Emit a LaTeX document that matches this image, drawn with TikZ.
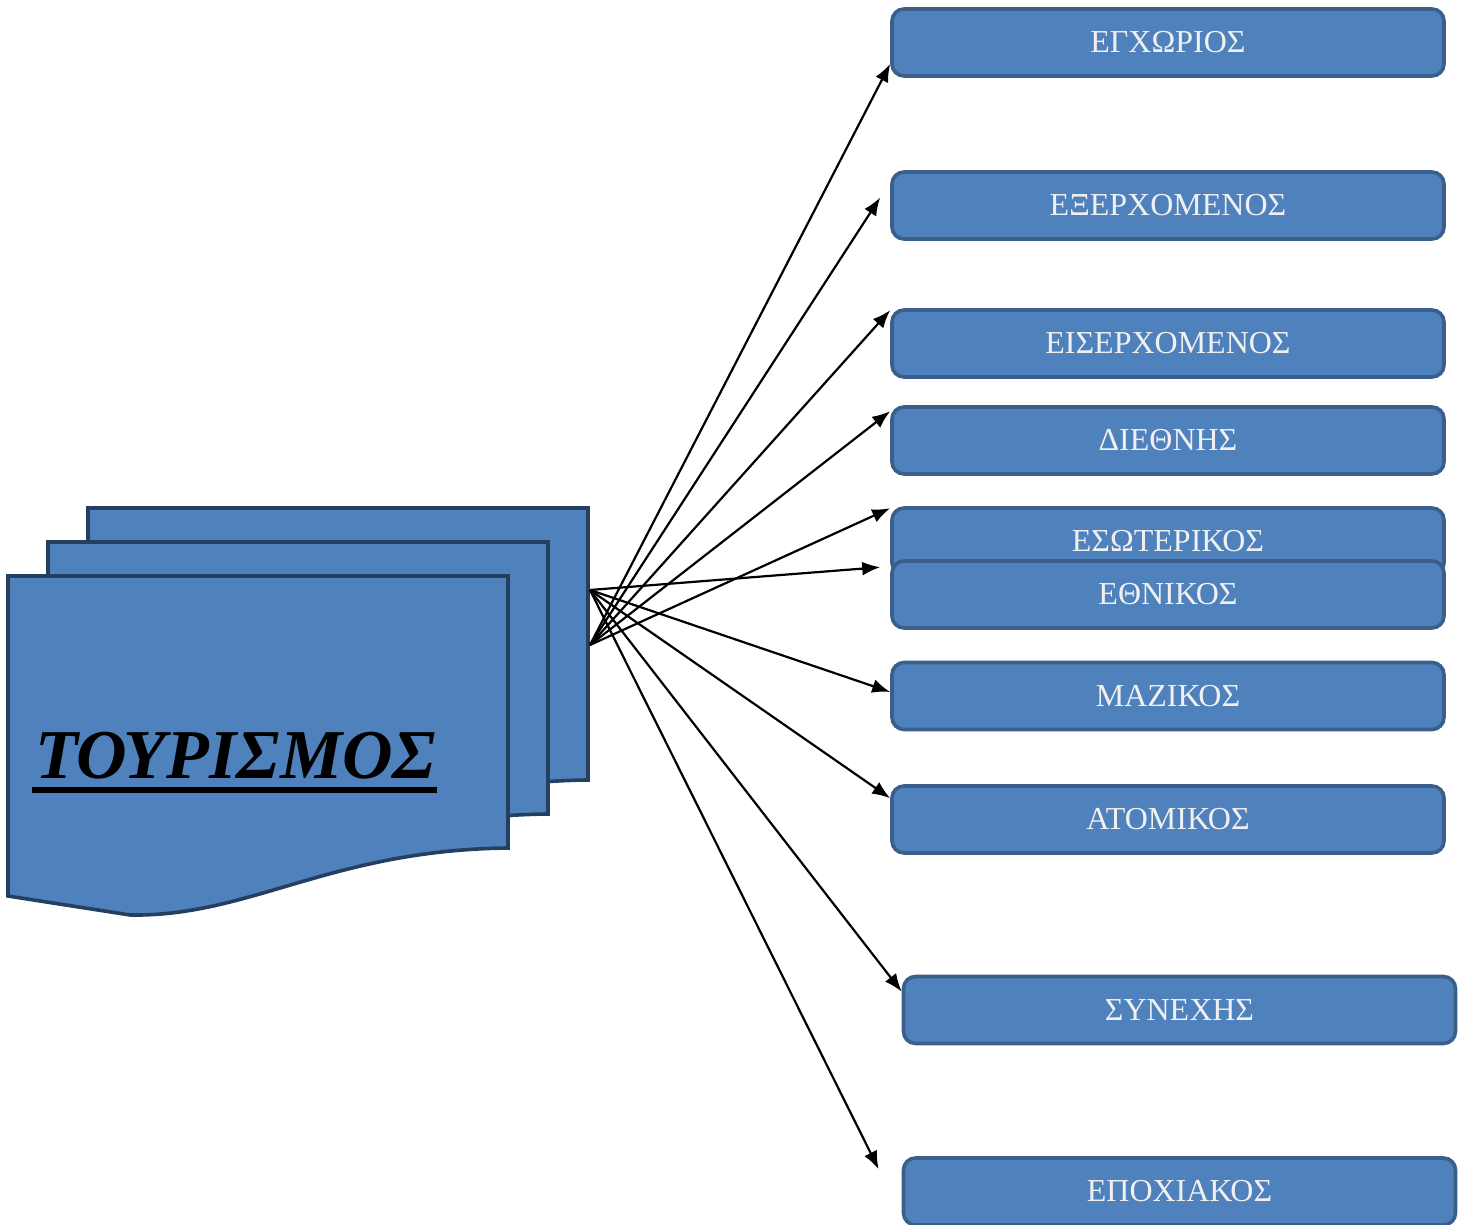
\documentclass[tikz,border=0pt]{standalone}
\usepackage{fontspec}
\setmainfont{Liberation Serif}
\usetikzlibrary{arrows.meta}

\definecolor{boxfill}{HTML}{4F81BD}
\definecolor{boxline}{HTML}{3A5F8B}
\definecolor{sheetline}{HTML}{243F60}

\tikzset{
  type box/.style={draw=boxline, fill=boxfill, line width=1.8pt, rounded corners=6pt,
    minimum width=276pt, minimum height=33.5pt, text=white!94!black, inner sep=0pt,
    font=\fontsize{16pt}{18pt}\selectfont},
  sheet/.style={draw=sheetline, fill=boxfill, line width=1.8pt}
}

\begin{document}
\begin{tikzpicture}[x=0.5pt, y=-0.5pt, >={Latex[length=9pt,width=7pt]}]

  \useasboundingbox (0,0) rectangle (1464,1225);

  \foreach \s in {80,40,0}
  \draw [sheet, shift={(\s,-0.85*\s)}] (8,576) -- (508,576) -- (508,848)
    .. controls (330,850) and (250,917) .. (130,915) -- (8,896) -- cycle;

  \node [anchor=base west, inner sep=0pt, font=\fontsize{35pt}{40pt}\selectfont\bfseries\itshape]
    (title) at (35,778) {ΤΟΥΡΙΣΜΟΣ};
  \draw [line width=3pt] ([xshift=-1.5pt,yshift=-6pt]title.base west) -- ([yshift=-6pt]title.base east);

  \foreach \n/\l/\x/\y in {local/ΕΓΧΩΡΙΟΣ/1168/42.5, outbound/ΕΞΕΡΧΟΜΕΝΟΣ/1168/205.5,
      inbound/ΕΙΣΕΡΧΟΜΕΝΟΣ/1168/343.5, intl/ΔΙΕΘΝΗΣ/1168/440.5,
      domestic/ΕΣΩΤΕΡΙΚΟΣ/1168/541.5, national/ΕΘΝΙΚΟΣ/1168/594.5,
      mass/ΜΑΖΙΚΟΣ/1168/696, indiv/ΑΤΟΜΙΚΟΣ/1168/819.5,
      contin/ΣΥΝΕΧΗΣ/1179.5/1010, season/ΕΠΟΧΙΑΚΟΣ/1179.5/1191.5}
  \node [type box] (\n) at (\x,\y) {\l};

  \coordinate (src-a) at (590,590);
  \coordinate (src-b) at (590,645);

  \draw [->, line width=1.1pt] (src-b) -- ([yshift=7pt]local.south west);
  \draw [->, line width=1.1pt] (src-b) -- ([xshift=-5pt,yshift=4pt]outbound.west);
  \draw [->, line width=1.1pt] (src-b) -- ([yshift=-1pt]inbound.north west);
  \draw [->, line width=1.1pt] (src-b) -- ([yshift=-3pt]intl.north west);
  \draw [->, line width=1.1pt] (src-b) -- ([yshift=-1pt]domestic.north west);
  \draw [->, line width=1.1pt] (src-a) -- ([xshift=-5pt,yshift=-4pt]national.north west);
  \draw [->, line width=1.1pt] (src-a) -- ([yshift=2pt]mass.west);
  \draw [->, line width=1.1pt] (src-a) -- ([yshift=-7pt]indiv.north west);
  \draw [->, line width=1.1pt] (src-a) -- ([yshift=-8.5pt]contin.north west);
  \draw [->, line width=1.1pt] (src-a) -- ([xshift=-11.5pt,yshift=-6.5pt]season.north west);

\end{tikzpicture}
\end{document}
